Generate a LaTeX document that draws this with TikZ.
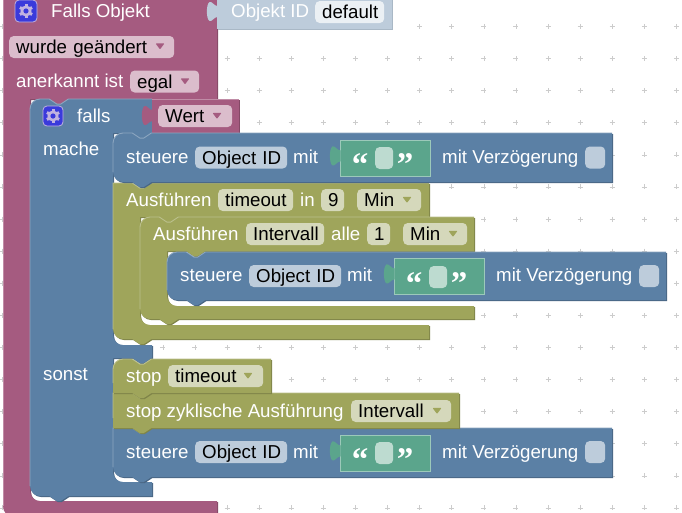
\documentclass[tikz,border=0pt]{standalone}
\usepackage{fontspec}
\setmainfont{Liberation Sans}
\newfontfamily\qfont{Liberation Serif Bold}
\definecolor{purple}{HTML}{A55B80}\definecolor{purplelight}{HTML}{C08CA6}\definecolor{purpledark}{HTML}{844966}
\definecolor{blue}{HTML}{5B80A5}\definecolor{bluelight}{HTML}{8CA6C0}\definecolor{bluedark}{HTML}{496684}
\definecolor{olive}{HTML}{9FA55B}\definecolor{olivelight}{HTML}{BBC08C}\definecolor{olivedark}{HTML}{7F8449}
\definecolor{shadow}{HTML}{BDCCDB}\definecolor{shadowlight}{HTML}{CDD9E4}\definecolor{shadowdark}{HTML}{A9B8C6}
\definecolor{green}{HTML}{5BA58C}\definecolor{greenlight}{HTML}{9CC9BA}
\definecolor{fpurple}{HTML}{DBBDCC}\definecolor{fblue}{HTML}{BDCCDB}\definecolor{folive}{HTML}{D5D8BB}
\definecolor{fgreen}{HTML}{BDDBD0}\definecolor{fwhite}{HTML}{EBF0F4}
\definecolor{indigo}{HTML}{3A3ADB}\definecolor{gearc}{HTML}{C0B2E0}\definecolor{griddot}{HTML}{CCCCCC}
\tikzset{
  every node/.style={font=\fontsize{18.7}{20}\selectfont},
  lbl/.style={anchor=west,inner sep=0pt,text=white,text height=15pt,text depth=2pt},
  fld/.style 2 args={anchor=west,fill=#1,rounded corners=4.5pt,inner xsep=7pt,inner ysep=2.5pt,
     text=black,text height=15pt,text depth=2pt,align=left,text width=#2pt-14pt},
  qmark/.style={anchor=base,inner sep=0pt,text=white,font=\fontsize{33}{33}\qfont},
  edge/.style={line width=.9pt},
}
\def\notch#1#2{-- (#1+19.2,#2) -- (#1+26.9,#2+5.1) -- (#1+30.7,#2+5.1) -- (#1+38.4,#2)}
\def\tabb#1#2{-- (#1+38.4,#2) -- (#1+30.7,#2+5.1) -- (#1+26.9,#2+5.1) -- (#1+19.2,#2)}
\def\tlR#1#2{(#1,#2+10) .. controls (#1,#2+4.5) and (#1+4.5,#2) .. (#1+10,#2)}
\def\tlS#1#2{(#1,#2)}
\def\blR#1#2{-- (#1+10,#2) .. controls (#1+4.5,#2) and (#1,#2-4.5) .. (#1,#2-10)}
\def\blS#1#2{-- (#1,#2)}
\def\conc#1#2{-- (#1,#2-10) .. controls (#1,#2-4.5) and (#1+4.5,#2) .. (#1+10,#2)}
\newcommand\blk[3]{%
  \path[fill=#1dark,shift={(1,1)}] #2;
  \path[fill=#1] #2;
  \draw[edge,#1light] #3;}
% colour, tl, bl, x, y, x2, y2
\newcommand\stk[7]{\blk{#1}{#2{#4}{#5} \notch{#4}{#5} -- (#6,#5) -- (#6,#7) \tabb{#4}{#7} #3{#4}{#7} -- cycle}{(#4,#7-10) -- #2{#4}{#5} \notch{#4}{#5} -- (#6,#5)}}
% colour, tl, x, y, x2, ymid, colx, b, b2
\newcommand\cblk[9]{\blk{#1}{#2{#3}{#4} \notch{#3}{#4} -- (#5,#4) -- (#5,#6) \tabb{#7}{#6} -- (#7,#6) \conc{#7}{#8} -- (#5,#8) -- (#5,#9) \tabb{#3}{#9} \blR{#3}{#9} -- cycle}{(#3,#9-10) -- #2{#3}{#4} \notch{#3}{#4} -- (#5,#4)}}
\newcommand\puz[3]{\fill[#1] (#2+.5,#3+4) .. controls (#2-3,#3+4) and (#2-5,#3-1) .. (#2-7.5,#3) .. controls (#2-11,#3+2) and (#2-11,#3+17) .. (#2-7.5,#3+19) .. controls (#2-5,#3+20) and (#2-3,#3+15) .. (#2+.5,#3+15) -- cycle;}
\newcommand\dd[3]{\fill[#1,rounded corners=.8pt] (#2-4.5,#3-2.6) -- (#2+4.5,#3-2.6) -- (#2,#3+3.4) -- cycle;}
\newcommand\gear[4]{\fill[indigo,draw=gearc,line width=.8pt,rounded corners=4pt] (#2-#4,#3-#4) rectangle (#2+#4,#3+#4);
  \foreach \a in {30,90,...,330}{\draw[gearc,line width=3pt] (#2,#3) -- +(\a:7);}
  \fill[gearc] (#2,#3) circle (5.6);\fill[indigo] (#2,#3) circle (2.6);}
\newcommand\strinp[4]{%
  \fill[green,draw=greenlight,line width=.8pt] (#1,#2) rectangle (#1+90,#2+36);
  \puz{green}{#1}{#2+6.4}
  \node[fld={fgreen}{18}] (#4t) at (#1+35,#3) {\phantom{x}};
  \node[qmark] (#4a) at (#1+20,#3+17) {“};
  \node[qmark] (#4b) at (#1+65,#3+17) {”};}
\newcommand\delaybox[3]{\node[fld={fblue}{20},inner xsep=0pt,text width=20pt] (#3) at (#1,#2) {};}
\begin{document}
\begin{tikzpicture}[x=1pt,y=-1pt]
\useasboundingbox (0,0) rectangle (682,512);
\fill[white] (0,0) rectangle (682,512);
\clip (0,0) rectangle (682,512);
% grid
\foreach \i in {0,...,21}\foreach \j in {0,...,15}{
  \pgfmathsetmacro\gx{2.3+32.1*\i}\pgfmathsetmacro\gy{26.4+32.1*\j}
  \draw[griddot,line width=.6pt] (\gx-2.5,\gy) -- (\gx+2.5,\gy) (\gx,\gy-2.5) -- (\gx,\gy+2.5);}
% outer purple block
\blk{purple}{(3,-3) -- (217,-3) -- (217,99) \tabb{30}{99} -- (30,99) \conc{30}{501} -- (217,501) -- (217,516) -- (13,516) .. controls (7,516) and (3,512) .. (3,506) -- cycle}{(3,506) -- (3,-3)}
% Objekt ID shadow block
\path[fill=shadowdark,shift={(1,1)}] (217,-3) -- (392,-3) -- (392,29) -- (217,29) -- cycle;
\fill[shadow] (217,-3) -- (392,-3) -- (392,29) -- (217,29) -- cycle;
\puz{shadow}{217}{2}
% falls block
\blk{blue}{\tlR{30}{99} \notch{30}{99} -- (152,99) -- (152,133) \tabb{113}{133} -- (113,133) \conc{113}{345} -- (152,345) -- (152,358) \tabb{113}{358} -- (113,358) \conc{113}{482} -- (152,482) -- (152,496) \tabb{30}{496} \blR{30}{496} -- cycle}{(30,486) -- \tlR{30}{99} \notch{30}{99} -- (152,99)}
% Wert
\path[fill=purpledark,shift={(1,1)}] (152,99) rectangle (239,133);
\fill[purple] (152,99) rectangle (239,133);
\draw[edge,purplelight] (152,99) -- (239,99);
\puz{purple}{152}{106}
% statements, last first so that each tab lies over the next block
\cblk{olive}{\tlS}{113}{183}{429}{217}{140}{325}{339}
\cblk{olive}{\tlR}{140}{217}{474}{251}{167}{306}{319}
\stk{blue}{\tlR}{\blR}{167}{252}{666}{300}
\stk{blue}{\tlR}{\blR}{113}{133}{612}{182}
\stk{blue}{\tlS}{\blR}{113}{428}{612}{477}
\stk{olive}{\tlS}{\blS}{113}{393}{459}{428}
\stk{olive}{\tlR}{\blS}{113}{359}{271}{393}
% top rows
\gear{g1}{26}{11}{11}
\node[lbl] (t1) at (51,11) {Falls Objekt};
\node[lbl] (t2) at (231,11) {Objekt ID};
\node[fld={fwhite}{69}] (f1) at (315,12) {default};
\node[fld={fpurple}{165}] (f2) at (9,47) {wurde geändert};
\dd{purple}{160}{46}
\node[lbl] (t3) at (16,81) {anerkannt ist};
\node[fld={fpurple}{69}] (f3) at (130,81.5) {egal};
\dd{purple}{185}{81}
\gear{g2}{53}{116}{10}
\node[lbl] (t4) at (77,116) {falls};
\node[fld={fpurple}{74}] (f4) at (158,116) {Wert};
\dd{purple}{217}{115.5}
\node[lbl] (t5) at (43,149) {mache};
\node[lbl] (t6) at (43,374) {sonst};
% steuere 1
\node[lbl] (a1) at (126,157) {steuere};
\node[fld={fblue}{92}] (a2) at (195,157.5) {\mbox{Object ID}};
\node[lbl] (a3) at (293,157) {mit};
\strinp{340}{140}{158}{a4}
\node[lbl] (a5) at (442,157) {mit Verzögerung};
\delaybox{585}{157.5}{a6}
% Ausfuehren 1
\node[lbl] (b1) at (126,200) {Ausführen};
\node[fld={folive}{75}] (b2) at (218,200) {timeout};
\node[lbl] (b3) at (300,200) {in};
\node[fld={folive}{23}] (b4) at (321,200) {9};
\node[fld={folive}{64}] (b5) at (357,200) {Min};
\dd{olive}{407}{199.5}
% Ausfuehren 2
\node[lbl] (c1) at (153,234) {Ausführen};
\node[fld={folive}{78}] (c2) at (246,234) {Intervall};
\node[lbl] (c3) at (331,234) {alle};
\node[fld={folive}{23}] (c4) at (367,234) {1};
\node[fld={folive}{64}] (c5) at (403,234) {Min};
\dd{olive}{453}{233.5}
% steuere 2
\node[lbl] (d1) at (180,275) {steuere};
\node[fld={fblue}{92}] (d2) at (249,276) {\mbox{Object ID}};
\node[lbl] (d3) at (347,275) {mit};
\strinp{394}{258}{277}{d4}
\node[lbl] (d5) at (496,275) {mit Verzögerung};
\delaybox{639}{276}{d6}
% stop
\node[lbl] (e1) at (126,376) {stop};
\node[fld={folive}{95}] (e2) at (168,376) {timeout};
\dd{olive}{248}{375.5}
\node[lbl] (h1) at (126,411) {stop zyklische Ausführung};
\node[fld={folive}{100}] (h2) at (351,411) {Intervall};
\dd{olive}{437}{410.5}
% steuere 3
\node[lbl] (i1) at (126,452) {steuere};
\node[fld={fblue}{92}] (i2) at (195,452) {\mbox{Object ID}};
\node[lbl] (i3) at (293,452) {mit};
\strinp{340}{435}{453}{i4}
\node[lbl] (i5) at (442,452) {mit Verzögerung};
\delaybox{585}{452}{i6}
\end{tikzpicture}
\end{document}
